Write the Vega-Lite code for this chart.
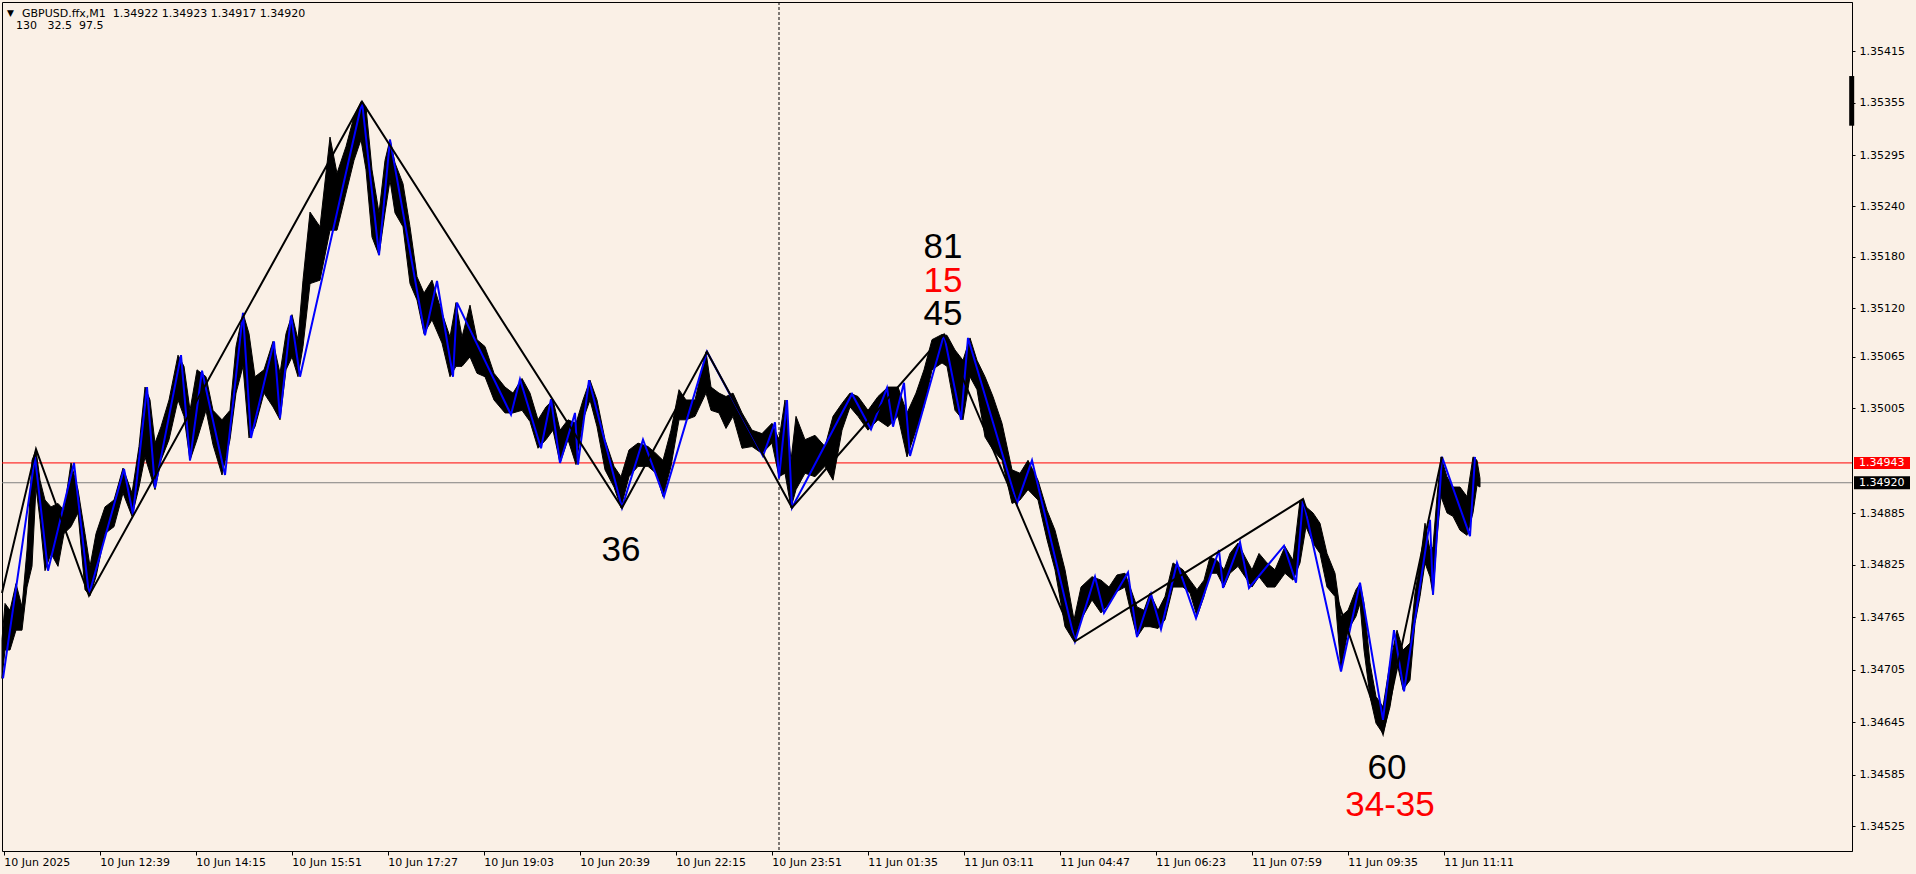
{
  "$schema": "https://vega.github.io/schema/vega-lite/v6.json",
  "width": 1850,
  "height": 849,
  "autosize": {"type": "none"},
  "padding": {"left": 2, "top": 2, "right": 64, "bottom": 23},
  "background": "#FAF0E6",
  "config": {
    "view": {"stroke": "#000000", "strokeWidth": 1, "fill": "#FAF0E6"},
    "axis": {"labelFont": "DejaVu Sans", "labelFontSize": 11, "labelColor": "#000000", "tickColor": "#000000", "domainColor": "#000000", "grid": false}
  },
  "datasets": {
    "price": [
{"b":0,"h":1.34738,"l":1.34693},{"b":3,"h":1.34780,"l":1.34726},{"b":8,"h":1.34772,"l":1.34726},{"b":14,"h":1.34803,"l":1.34749},{"b":20,"h":1.34776,"l":1.34749},{"b":25,"h":1.34842,"l":1.34799},{"b":30,"h":1.34946,"l":1.34823},{"b":34,"h":1.34958,"l":1.34915},{"b":38,"h":1.34923,"l":1.34877},{"b":43,"h":1.34900,"l":1.34818},{"b":49,"h":1.34892,"l":1.34838},{"b":56,"h":1.34896,"l":1.34823},{"b":62,"h":1.34888,"l":1.34861},{"b":69,"h":1.34943,"l":1.34869},{"b":76,"h":1.34912,"l":1.34885},{"b":83,"h":1.34861,"l":1.34796},{"b":88,"h":1.34823,"l":1.34789},{"b":94,"h":1.34861,"l":1.34811},{"b":103,"h":1.34892,"l":1.34861},{"b":112,"h":1.34900,"l":1.34869},{"b":121,"h":1.34937,"l":1.34908},{"b":130,"h":1.34908,"l":1.34881},{"b":137,"h":1.34962,"l":1.34915},{"b":143,"h":1.35031,"l":1.34950},{"b":148,"h":1.35016,"l":1.34931},{"b":153,"h":1.34966,"l":1.34912},{"b":159,"h":1.34985,"l":1.34946},{"b":167,"h":1.35016,"l":1.34970},{"b":176,"h":1.35068,"l":1.35016},{"b":182,"h":1.35055,"l":1.34997},{"b":188,"h":1.35004,"l":1.34946},{"b":195,"h":1.35051,"l":1.34970},{"b":204,"h":1.35043,"l":1.35004},{"b":211,"h":1.35004,"l":1.34964},{"b":220,"h":1.34993,"l":1.34929},{"b":228,"h":1.35004,"l":1.34970},{"b":234,"h":1.35078,"l":1.35024},{"b":241,"h":1.35117,"l":1.35055},{"b":247,"h":1.35093,"l":1.34972},{"b":253,"h":1.35043,"l":1.34985},{"b":262,"h":1.35051,"l":1.35024},{"b":271,"h":1.35084,"l":1.35008},{"b":278,"h":1.35047,"l":1.34993},{"b":284,"h":1.35093,"l":1.35051},{"b":290,"h":1.35115,"l":1.35066},{"b":296,"h":1.35086,"l":1.35043},{"b":301,"h":1.35155,"l":1.35078},{"b":308,"h":1.35234,"l":1.35151},{"b":318,"h":1.35217,"l":1.35155},{"b":328,"h":1.35321,"l":1.35213},{"b":335,"h":1.35279,"l":1.35213},{"b":344,"h":1.35310,"l":1.35256},{"b":352,"h":1.35345,"l":1.35294},{"b":359,"h":1.35362,"l":1.35318},{"b":364,"h":1.35356,"l":1.35283},{"b":370,"h":1.35283,"l":1.35205},{"b":377,"h":1.35233,"l":1.35184},{"b":383,"h":1.35294,"l":1.35233},{"b":388,"h":1.35318,"l":1.35271},{"b":393,"h":1.35291,"l":1.35233},{"b":401,"h":1.35267,"l":1.35217},{"b":408,"h":1.35217,"l":1.35151},{"b":415,"h":1.35159,"l":1.35132},{"b":422,"h":1.35140,"l":1.35093},{"b":430,"h":1.35155,"l":1.35109},{"b":440,"h":1.35117,"l":1.35082},{"b":448,"h":1.35089,"l":1.35043},{"b":454,"h":1.35129,"l":1.35055},{"b":460,"h":1.35089,"l":1.35055},{"b":468,"h":1.35126,"l":1.35066},{"b":475,"h":1.35086,"l":1.35047},{"b":483,"h":1.35078,"l":1.35043},{"b":492,"h":1.35047,"l":1.35016},{"b":503,"h":1.35031,"l":1.35001},{"b":511,"h":1.35024,"l":1.35001},{"b":520,"h":1.35041,"l":1.35004},{"b":528,"h":1.35024,"l":1.34991},{"b":536,"h":1.34993,"l":1.34960},{"b":544,"h":1.35008,"l":1.34970},{"b":551,"h":1.35016,"l":1.34981},{"b":558,"h":1.34981,"l":1.34943},{"b":566,"h":1.34993,"l":1.34970},{"b":574,"h":1.34989,"l":1.34941},{"b":581,"h":1.35016,"l":1.34993},{"b":588,"h":1.35039,"l":1.35016},{"b":595,"h":1.35016,"l":1.34985},{"b":603,"h":1.34970,"l":1.34935},{"b":612,"h":1.34939,"l":1.34915},{"b":619,"h":1.34927,"l":1.34891},{"b":627,"h":1.34958,"l":1.34927},{"b":636,"h":1.34966,"l":1.34939},{"b":646,"h":1.34962,"l":1.34939},{"b":654,"h":1.34954,"l":1.34931},{"b":661,"h":1.34946,"l":1.34904},{"b":669,"h":1.34981,"l":1.34939},{"b":677,"h":1.35028,"l":1.34993},{"b":684,"h":1.35016,"l":1.34993},{"b":693,"h":1.35016,"l":1.34997},{"b":704,"h":1.35072,"l":1.35024},{"b":709,"h":1.35031,"l":1.35004},{"b":717,"h":1.35024,"l":1.35001},{"b":724,"h":1.35020,"l":1.34983},{"b":731,"h":1.35024,"l":1.34997},{"b":740,"h":1.35001,"l":1.34960},{"b":750,"h":1.34981,"l":1.34962},{"b":760,"h":1.34977,"l":1.34954},{"b":770,"h":1.34989,"l":1.34966},{"b":777,"h":1.34970,"l":1.34927},{"b":783,"h":1.35016,"l":1.34931},{"b":789,"h":1.34946,"l":1.34891},{"b":794,"h":1.34997,"l":1.34912},{"b":803,"h":1.34970,"l":1.34931},{"b":813,"h":1.34975,"l":1.34927},{"b":823,"h":1.34962,"l":1.34939},{"b":831,"h":1.34997,"l":1.34923},{"b":840,"h":1.35012,"l":1.34981},{"b":848,"h":1.35024,"l":1.35008},{"b":856,"h":1.35020,"l":1.34997},{"b":866,"h":1.35004,"l":1.34981},{"b":876,"h":1.35020,"l":1.34993},{"b":886,"h":1.35031,"l":1.34985},{"b":896,"h":1.35031,"l":1.34997},{"b":905,"h":1.35001,"l":1.34950},{"b":914,"h":1.35024,"l":1.34981},{"b":922,"h":1.35051,"l":1.35008},{"b":930,"h":1.35086,"l":1.35051},{"b":940,"h":1.35092,"l":1.35059},{"b":945,"h":1.35091,"l":1.35055},{"b":953,"h":1.35074,"l":1.35004},{"b":961,"h":1.35062,"l":1.34993},{"b":968,"h":1.35088,"l":1.35043},{"b":975,"h":1.35062,"l":1.35028},{"b":983,"h":1.35043,"l":1.34973},{"b":991,"h":1.35020,"l":1.34958},{"b":1000,"h":1.34989,"l":1.34946},{"b":1010,"h":1.34935,"l":1.34896},{"b":1018,"h":1.34931,"l":1.34900},{"b":1026,"h":1.34946,"l":1.34912},{"b":1036,"h":1.34923,"l":1.34900},{"b":1045,"h":1.34888,"l":1.34854},{"b":1053,"h":1.34865,"l":1.34819},{"b":1063,"h":1.34819,"l":1.34753},{"b":1072,"h":1.34761,"l":1.34736},{"b":1079,"h":1.34799,"l":1.34761},{"b":1090,"h":1.34811,"l":1.34784},{"b":1099,"h":1.34807,"l":1.34769},{"b":1107,"h":1.34799,"l":1.34780},{"b":1115,"h":1.34813,"l":1.34794},{"b":1123,"h":1.34815,"l":1.34799},{"b":1129,"h":1.34796,"l":1.34769},{"b":1135,"h":1.34776,"l":1.34741},{"b":1142,"h":1.34772,"l":1.34753},{"b":1148,"h":1.34792,"l":1.34753},{"b":1156,"h":1.34772,"l":1.34751},{"b":1163,"h":1.34788,"l":1.34761},{"b":1171,"h":1.34827,"l":1.34799},{"b":1181,"h":1.34819,"l":1.34799},{"b":1188,"h":1.34807,"l":1.34792},{"b":1195,"h":1.34796,"l":1.34765},{"b":1202,"h":1.34807,"l":1.34788},{"b":1208,"h":1.34834,"l":1.34815},{"b":1215,"h":1.34830,"l":1.34815},{"b":1222,"h":1.34819,"l":1.34799},{"b":1228,"h":1.34838,"l":1.34815},{"b":1236,"h":1.34850,"l":1.34823},{"b":1243,"h":1.34834,"l":1.34811},{"b":1250,"h":1.34819,"l":1.34799},{"b":1257,"h":1.34838,"l":1.34811},{"b":1265,"h":1.34827,"l":1.34799},{"b":1273,"h":1.34819,"l":1.34799},{"b":1283,"h":1.34846,"l":1.34815},{"b":1291,"h":1.34830,"l":1.34807},{"b":1298,"h":1.34900,"l":1.34827},{"b":1304,"h":1.34892,"l":1.34869},{"b":1311,"h":1.34885,"l":1.34850},{"b":1318,"h":1.34873,"l":1.34838},{"b":1325,"h":1.34838,"l":1.34799},{"b":1333,"h":1.34815,"l":1.34788},{"b":1339,"h":1.34765,"l":1.34703},{"b":1346,"h":1.34772,"l":1.34749},{"b":1354,"h":1.34796,"l":1.34765},{"b":1358,"h":1.34803,"l":1.34780},{"b":1362,"h":1.34780,"l":1.34726},{"b":1368,"h":1.34711,"l":1.34672},{"b":1374,"h":1.34672,"l":1.34641},{"b":1381,"h":1.34660,"l":1.34629},{"b":1388,"h":1.34711,"l":1.34660},{"b":1395,"h":1.34749,"l":1.34711},{"b":1401,"h":1.34726,"l":1.34680},{"b":1408,"h":1.34734,"l":1.34691},{"b":1413,"h":1.34792,"l":1.34757},{"b":1418,"h":1.34827,"l":1.34788},{"b":1423,"h":1.34873,"l":1.34827},{"b":1428,"h":1.34842,"l":1.34811},{"b":1431,"h":1.34846,"l":1.34790},{"b":1435,"h":1.34904,"l":1.34857},{"b":1439,"h":1.34950,"l":1.34904},{"b":1445,"h":1.34927,"l":1.34885},{"b":1451,"h":1.34915,"l":1.34881},{"b":1458,"h":1.34915,"l":1.34865},{"b":1465,"h":1.34904,"l":1.34859},{"b":1471,"h":1.34950,"l":1.34885},{"b":1475,"h":1.34946,"l":1.34917},{"b":1478,"h":1.34925,"l":1.34915}
    ],
    "zzblue": [
{"b":1,"p":1.34693},{"b":33,"p":1.34950},{"b":46,"p":1.34818},{"b":72,"p":1.34943},{"b":87,"p":1.34790},{"b":122,"p":1.34936},{"b":131,"p":1.34883},{"b":145,"p":1.35031},{"b":153,"p":1.34914},{"b":179,"p":1.35068},{"b":188,"p":1.34946},{"b":200,"p":1.35050},{"b":223,"p":1.34929},{"b":241,"p":1.35117},{"b":249,"p":1.34972},{"b":272,"p":1.35084},{"b":278,"p":1.34995},{"b":289,"p":1.35114},{"b":298,"p":1.35043},{"b":360,"p":1.35362},{"b":377,"p":1.35184},{"b":388,"p":1.35318},{"b":423,"p":1.35091},{"b":435,"p":1.35154},{"b":451,"p":1.35043},{"b":455,"p":1.35129},{"b":509,"p":1.34999},{"b":518,"p":1.35040},{"b":539,"p":1.34960},{"b":549,"p":1.35017},{"b":558,"p":1.34943},{"b":573,"p":1.35001},{"b":576,"p":1.34941},{"b":587,"p":1.35039},{"b":620,"p":1.34891},{"b":641,"p":1.34970},{"b":662,"p":1.34904},{"b":705,"p":1.35072},{"b":761,"p":1.34951},{"b":773,"p":1.34990},{"b":777,"p":1.34925},{"b":785,"p":1.35016},{"b":790,"p":1.34891},{"b":850,"p":1.35023},{"b":869,"p":1.34982},{"b":885,"p":1.35030},{"b":891,"p":1.34985},{"b":902,"p":1.35036},{"b":908,"p":1.34951},{"b":942,"p":1.35092},{"b":959,"p":1.34993},{"b":966,"p":1.35088},{"b":1015,"p":1.34896},{"b":1030,"p":1.34946},{"b":1073,"p":1.34736},{"b":1093,"p":1.34811},{"b":1102,"p":1.34769},{"b":1126,"p":1.34816},{"b":1135,"p":1.34741},{"b":1149,"p":1.34791},{"b":1159,"p":1.34750},{"b":1175,"p":1.34827},{"b":1194,"p":1.34763},{"b":1217,"p":1.34842},{"b":1221,"p":1.34798},{"b":1238,"p":1.34851},{"b":1247,"p":1.34798},{"b":1282,"p":1.34847},{"b":1294,"p":1.34804},{"b":1301,"p":1.34901},{"b":1339,"p":1.34701},{"b":1358,"p":1.34804},{"b":1381,"p":1.34645},{"b":1392,"p":1.34749},{"b":1402,"p":1.34678},{"b":1428,"p":1.34877},{"b":1431,"p":1.34790},{"b":1440,"p":1.34950},{"b":1468,"p":1.34858},{"b":1473,"p":1.34950}
    ],
    "zzblack": [
{"b":0,"p":1.34792},{"b":34,"p":1.34959},{"b":87,"p":1.34789},{"b":360,"p":1.35362},{"b":620,"p":1.34891},{"b":705,"p":1.35072},{"b":790,"p":1.34891},{"b":942,"p":1.35092},{"b":1073,"p":1.34736},{"b":1301,"p":1.34901},{"b":1381,"p":1.34629},{"b":1440,"p":1.34950}
    ],
    "notes": [
{"b":941,"p":1.35181,"t":"81","k":"count"},{"b":941,"p":1.35141,"t":"15","k":"range"},{"b":941,"p":1.35103,"t":"45","k":"count"},{"b":619,"p":1.34829,"t":"36","k":"count"},{"b":1385,"p":1.34576,"t":"60","k":"count"},{"b":1388,"p":1.34533,"t":"34-35","k":"range"}
    ],
    "header": [
{"b":20,"p":1.35460,"t":"GBPUSD.ffx,M1\u00a0\u00a01.34922 1.34923 1.34917 1.34920"},{"b":14,"p":1.35446,"t":"130\u00a0\u00a0\u00a032.5\u00a0\u00a097.5"}
    ],
    "tags": [
{"p":1.34943,"t":"1.34943","k":"bid"},{"p":1.34920,"t":"1.34920","k":"last"}
    ]
  },
  "layer": [
    {
      "data": {"values": [{}]},
      "mark": {"type": "rule", "color": "#000000", "strokeWidth": 1, "strokeDash": [3, 2]},
      "encoding": {"x": {"datum": 777, "type": "quantitative"}}
    },
    {
      "data": {"name": "tags"},
      "transform": [{"filter": "datum.k == 'bid'"}],
      "mark": {"type": "rule", "color": "#FF0000", "strokeWidth": 1},
      "encoding": {"y": {"field": "p", "type": "quantitative"}}
    },
    {
      "data": {"name": "tags"},
      "transform": [{"filter": "datum.k == 'last'"}],
      "mark": {"type": "rule", "color": "#808080", "strokeWidth": 1},
      "encoding": {"y": {"field": "p", "type": "quantitative"}}
    },
    {
      "data": {"name": "price"},
      "mark": {"type": "area", "color": "#000000", "stroke": "#000000", "strokeWidth": 1, "interpolate": "linear"},
      "encoding": {
        "x": {"field": "b", "type": "quantitative", "scale": {"domain": [0, 1850], "nice": false, "zero": false},
          "axis": {"orient": "bottom", "title": null, "grid": false, "domain": false,
            "values": [1.7, 97.7, 193.7, 289.7, 385.7, 481.7, 577.7, 673.7, 769.7, 865.7, 961.7, 1057.7, 1153.7, 1249.7, 1345.7, 1441.7],
            "labelExpr": "['10 Jun 2025','10 Jun 12:39','10 Jun 14:15','10 Jun 15:51','10 Jun 17:27','10 Jun 19:03','10 Jun 20:39','10 Jun 22:15','10 Jun 23:51','11 Jun 01:35','11 Jun 03:11','11 Jun 04:47','11 Jun 06:23','11 Jun 07:59','11 Jun 09:35','11 Jun 11:11'][round((datum.value - 1.7) / 96)]",
            "labelAlign": "left", "labelBaseline": "top", "tickSize": 4, "labelPadding": 1, "labelFlush": false, "labelOverlap": false, "labelBound": false}},
        "y": {"field": "l", "type": "quantitative", "scale": {"domain": [1.344928, 1.354777], "nice": false, "zero": false},
          "axis": {"orient": "right", "title": null, "grid": false, "domain": true,
            "values": [1.345217, 1.345813, 1.346423, 1.347031, 1.347642, 1.348251, 1.348847, 1.350066, 1.350661, 1.351227, 1.351823, 1.352405, 1.353000, 1.353609, 1.354205],
            "labelExpr": "['1.34525','1.34585','1.34645','1.34705','1.34765','1.34825','1.34885','1.35005','1.35065','1.35120','1.35180','1.35240','1.35295','1.35355','1.35415'][round(datum.index * 14)]",
            "tickSize": 3, "labelPadding": 4, "labelAlign": "left", "labelBaseline": "middle", "labelFlush": false, "labelOverlap": false}},
        "y2": {"field": "h"}
      }
    },
    {
      "data": {"name": "zzblue"},
      "mark": {"type": "line", "color": "#0000FF", "strokeWidth": 2},
      "encoding": {"x": {"field": "b", "type": "quantitative"}, "y": {"field": "p", "type": "quantitative"}}
    },
    {
      "data": {"name": "zzblack"},
      "mark": {"type": "line", "color": "#000000", "strokeWidth": 2},
      "encoding": {"x": {"field": "b", "type": "quantitative"}, "y": {"field": "p", "type": "quantitative"}}
    },
    {
      "data": {"name": "notes"},
      "mark": {"type": "text", "font": "Liberation Sans", "fontSize": 35, "align": "center", "baseline": "alphabetic"},
      "encoding": {
        "x": {"field": "b", "type": "quantitative"},
        "y": {"field": "p", "type": "quantitative"},
        "text": {"field": "t"},
        "color": {"field": "k", "type": "nominal", "scale": {"domain": ["count", "range"], "range": ["#000000", "#FF0000"]}, "legend": null}
      }
    },
    {
      "data": {"name": "header"},
      "mark": {"type": "text", "font": "DejaVu Sans", "fontSize": 11, "align": "left", "baseline": "alphabetic", "color": "#000000"},
      "encoding": {
        "x": {"field": "b", "type": "quantitative"},
        "y": {"field": "p", "type": "quantitative"},
        "text": {"field": "t"}
      }
    },
    {
      "data": {"values": [{}]},
      "mark": {"type": "text", "font": "DejaVu Sans", "fontSize": 9, "align": "left", "baseline": "alphabetic", "color": "#000000", "text": "\u25bc"},
      "encoding": {
        "x": {"datum": 5, "type": "quantitative"},
        "y": {"datum": 1.35461, "type": "quantitative"}
      }
    },
    {
      "data": {"name": "tags"},
      "transform": [{"filter": "datum.k == 'bid'"}],
      "mark": {"type": "rule", "color": "#FF0000", "strokeWidth": 12, "clip": false},
      "encoding": {"x": {"datum": 1852, "type": "quantitative"}, "x2": {"datum": 1908}, "y": {"field": "p", "type": "quantitative"}}
    },
    {
      "data": {"name": "tags"},
      "transform": [{"filter": "datum.k == 'last'"}],
      "mark": {"type": "rule", "color": "#000000", "strokeWidth": 13, "clip": false},
      "encoding": {"x": {"datum": 1852, "type": "quantitative"}, "x2": {"datum": 1908}, "y": {"field": "p", "type": "quantitative"}}
    },
    {
      "data": {"name": "tags"},
      "mark": {"type": "text", "font": "DejaVu Sans", "fontSize": 11, "align": "left", "baseline": "middle", "color": "#FFFFFF", "clip": false},
      "encoding": {"x": {"datum": 1857, "type": "quantitative"}, "y": {"field": "p", "type": "quantitative"}, "text": {"field": "t"}}
    },
    {
      "data": {"values": [{}]},
      "mark": {"type": "rule", "color": "#000000", "strokeWidth": 5, "clip": false},
      "encoding": {"x": {"datum": 1849.7, "type": "quantitative"}, "y": {"datum": 1.353918, "type": "quantitative"}, "y2": {"datum": 1.353342}}
    }
  ]
}
